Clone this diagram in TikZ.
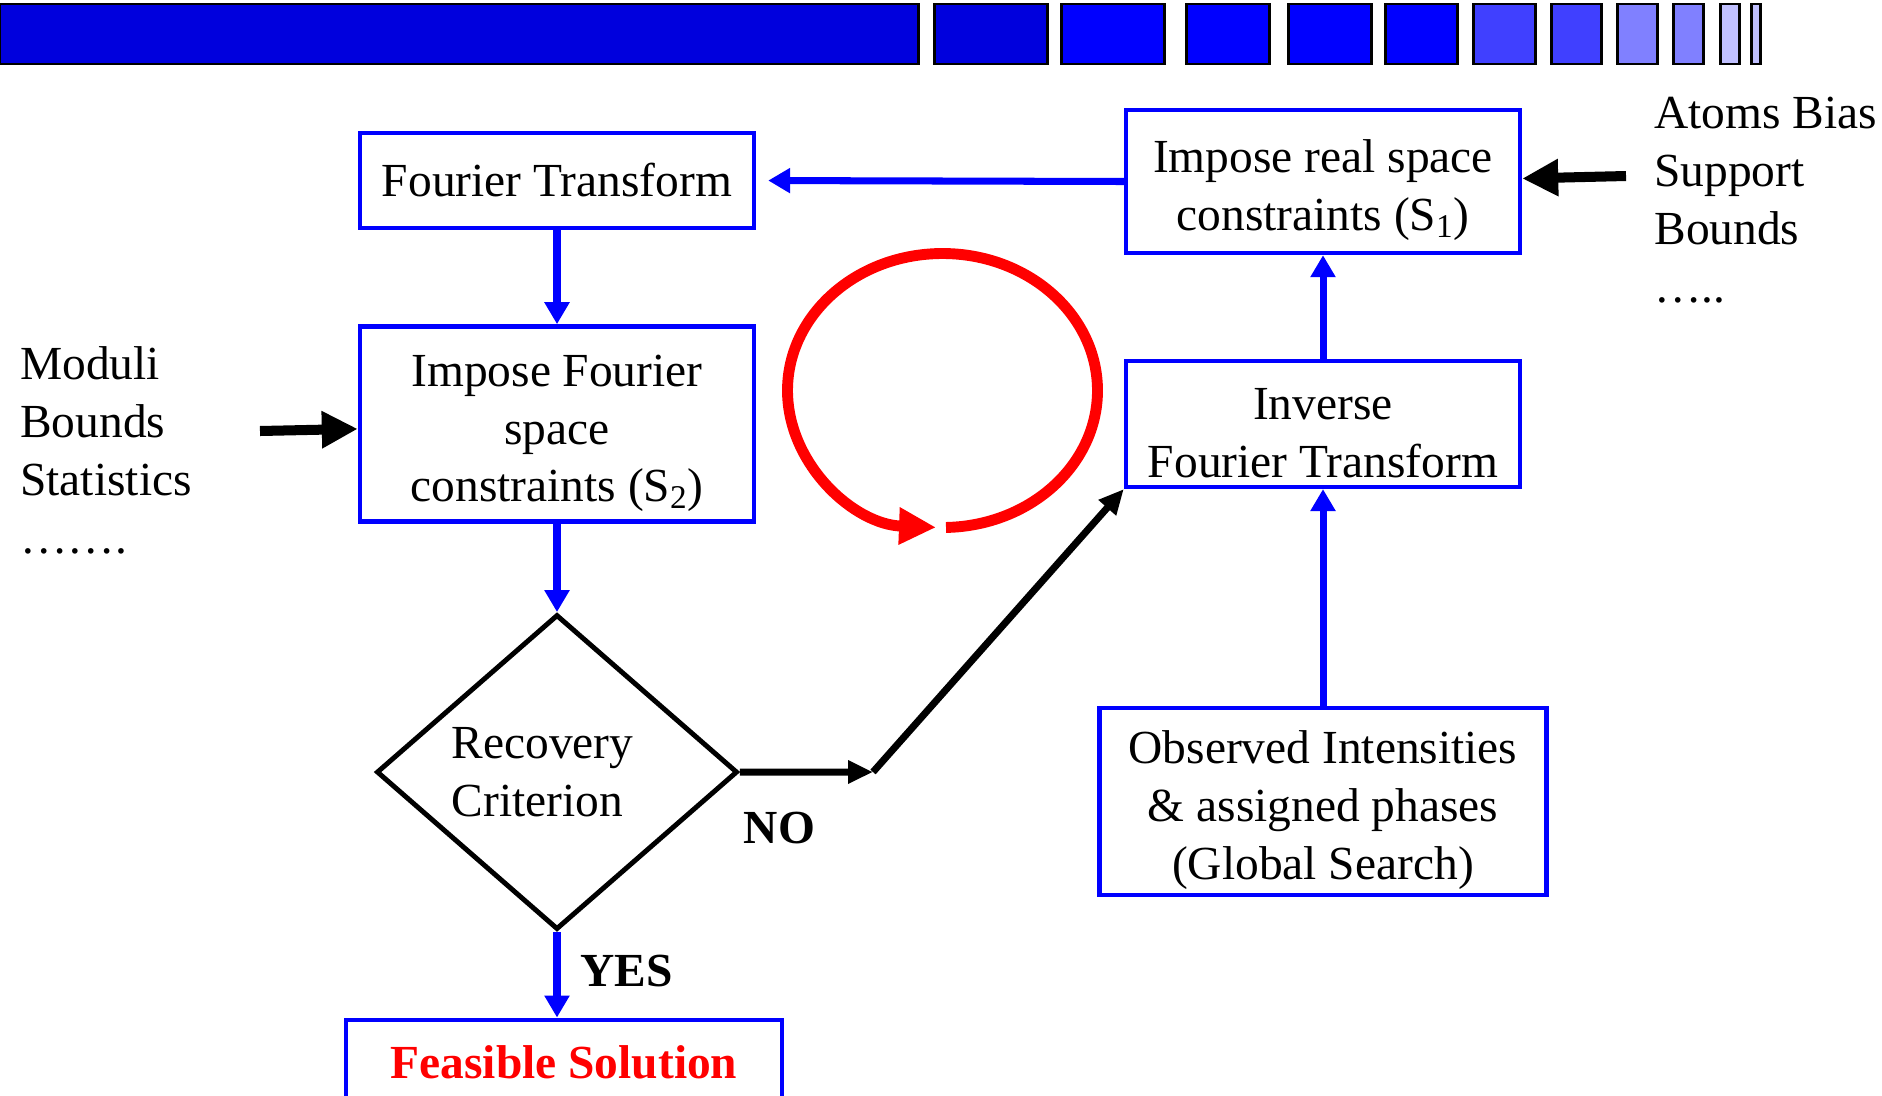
\documentclass[tikz,border=0pt]{standalone}
\usepackage{fontspec}
\setmainfont{Liberation Serif}
\usetikzlibrary{shapes.geometric, arrows.meta, positioning}
\definecolor{flowblue}{HTML}{0000FF}
\definecolor{bardark}{HTML}{0000DD}
\definecolor{barmid}{HTML}{4040FF}
\definecolor{barpale}{HTML}{8080FF}
\definecolor{barfaint}{HTML}{C0C0FF}
% extra room above the first line of the taller boxes
\newcommand{\topstrut}{\rule{0pt}{1.06em}}

\begin{document}
\begin{tikzpicture}[
    font=\fontsize{27}{33}\selectfont,
    box/.style={rectangle, draw=flowblue, line width=2.5pt, minimum width=7.88cm,
                align=center, inner sep=0pt},
    result/.style={rectangle, draw=flowblue, line width=2.5pt, inner sep=0pt,
                   text=red, font=\fontsize{27}{33}\selectfont\bfseries},
    test/.style={diamond, draw=black, line width=2.8pt, minimum width=7.22cm,
                 minimum height=6.3cm, align=left, inner sep=0pt},
    flow/.style={-{Triangle[length=0.44cm, width=0.48cm]}, line width=4pt, flowblue},
    jump/.style={-{Triangle[length=0.5cm, width=0.44cm]}, line width=4pt, black},
    feed/.style={-{Triangle[length=0.72cm, width=0.7cm]}, line width=5.7pt, black},
    iterarrow/.style={-{Triangle[length=0.74cm, width=0.7cm]}, line width=6.2pt, red},
    tag/.style={font=\fontsize{27}{33}\selectfont\bfseries, inner sep=0pt},
    note/.style={align=left, inner sep=0pt, anchor=north west}
]
    \useasboundingbox (0,0) rectangle (37.64,-21.9);

    % Title bar
    \foreach \xa/\xb/\barcol in {0/18.36/bardark, 18.68/20.94/bardark,
        21.22/23.28/flowblue, 23.72/25.38/flowblue, 25.76/27.42/flowblue,
        27.70/29.14/flowblue, 29.46/30.70/barmid, 31.02/32.02/barmid,
        32.34/33.14/barpale, 33.46/34.06/barpale, 34.40/34.78/barfaint,
        35.02/35.20/barfaint}
        \draw[fill=\barcol, line width=1.7pt] (\xa,-0.08) rectangle (\xb,-1.28);

    % Nodes
    \node[box, minimum height=1.9cm] (ft) at (11.14,-3.61) {Fourier Transform};
    \node[box, below=1.88cm of ft, minimum height=3.9cm] (fsc)
        {\topstrut Impose Fourier\\space\\constraints (S\textsubscript{2})};
    \node[test, below=1.77cm of fsc] (crit) {Recovery\hspace*{0.58cm}\\Criterion};
    \node[result, below=1.71cm of crit, xshift=0.14cm, minimum width=8.72cm,
          minimum height=1.7cm] (sol) {Feasible Solution};

    \node[box, minimum height=2.86cm] (real) at (26.46,-3.63)
        {\topstrut Impose real space\\constraints (S\textsubscript{1})};
    \node[box, below=2.07cm of real, minimum height=2.52cm] (ift)
        {\topstrut Inverse\\Fourier Transform};
    \node[box, below=4.33cm of ift, minimum width=8.94cm, minimum height=3.74cm] (obs)
        {\topstrut Observed Intensities\\\& assigned phases\\(Global Search)};

    \coordinate (turn) at (17.46,-15.44);
    \coordinate (modin) at (5.2,-8.62);
    \coordinate (atomin) at (32.52,-3.52);
    \coordinate (spin) at (18.85,-7.81);

    % Arrows
    \draw[flow, shorten >=0.24cm] (real.west) -- (ft.east);
    \draw[flow] (ft) -- (fsc);
    \draw[flow] (fsc) -- (crit);
    \draw[flow] (crit.south) -- (crit.south |- sol.north);
    \draw[jump] (crit.east) -- (turn);
    \draw[jump] (turn) -- (ift.south west);
    \draw[flow] (ift) -- (real);
    \draw[flow] (obs) -- (ift);
    \draw[feed] (modin) -- ([yshift=-0.1cm]fsc.west);
    \draw[feed] (atomin) -- ([yshift=0.06cm]real.east);
    \draw[iterarrow] ([shift={(-88.7:3.10cm and 2.74cm)}]spin)
        arc[start angle=-88.7, end angle=267.6, x radius=3.10cm, y radius=2.74cm];

    % Labels
    \node[tag, below right=0.8cm and 0.07cm of crit.east] (no) {NO};
    \node[tag, below right=0.46cm and 0.46cm of crit.south] (yes) {YES};
    \node[note] (modtext) at (0.4,-6.93) {Moduli\\Bounds\\Statistics\\…….};
    \node[note] (atomtext) at (33.08,-1.94) {Atoms Bias\\Support\\Bounds\\…..};
\end{tikzpicture}
\end{document}
